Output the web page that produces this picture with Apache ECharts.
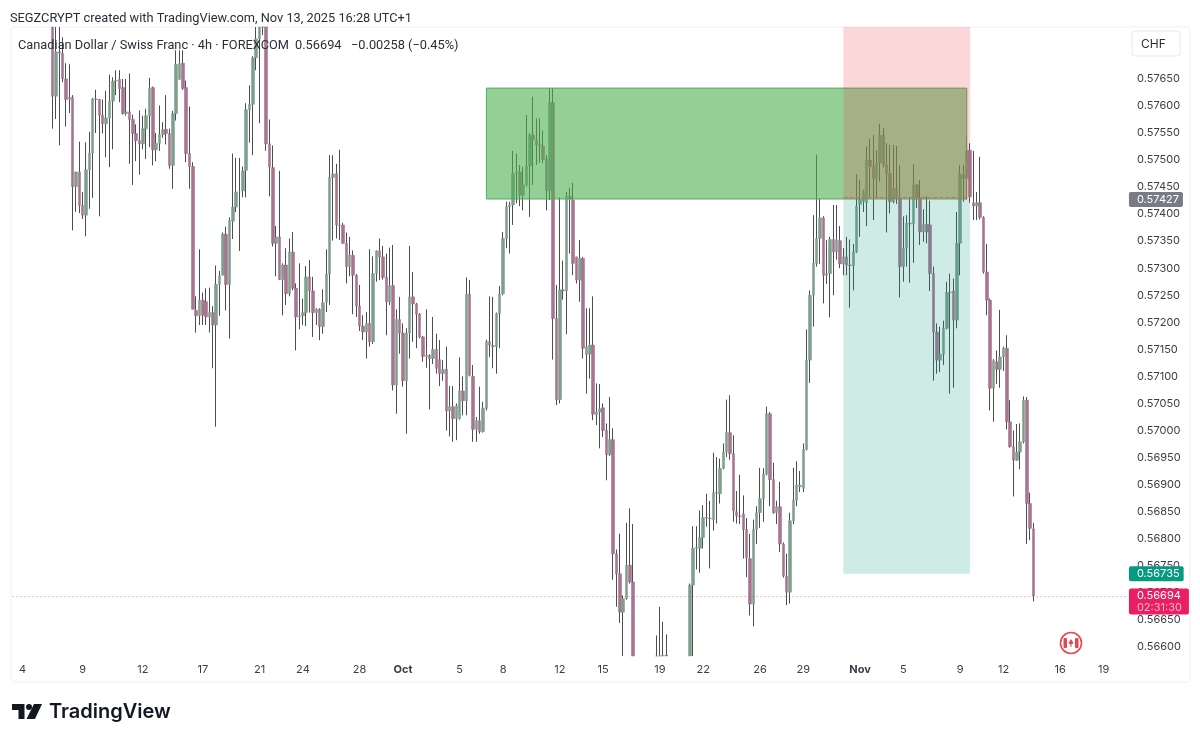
<!DOCTYPE html>
<html>
<head>
<meta charset="utf-8">
<title>CADCHF 4h</title>
<style>html,body{margin:0;background:#fff}#chart{width:1200px;height:742px}</style>
<script src="https://cdn.jsdelivr.net/npm/echarts@6/dist/echarts.min.js"></script>
</head>
<body>
<div id="chart"></div>
<script>
// prices are in points (1/100000 CHF). null = bar is outside the visible pane
const opens = [
null,null,null,null,null,null,null,null,null,null,
null,null,57768,57618,57700,57697,57650,57612,57616,57451,
57478,57416,57398,57482,57513,57613,57612,57583,57567,57578,
57609,57646,57649,57634,57586,57589,57575,57549,57536,57530,
57558,57582,57634,57519,57531,57547,57557,57549,57490,57586,
57649,57679,57634,57512,57488,57222,57212,57241,57238,57210,
57218,57195,57270,57287,57363,57270,57387,57413,57441,57443,
57481,57593,57603,57689,57724,57750,57790,57530,57486,57346,
57358,57279,57306,57253,57330,57263,57210,57212,57218,57284,
57258,57218,57224,57192,57237,57289,57468,57475,57380,57380,
57346,57303,57324,57287,57230,57193,57182,57198,57164,57290,
57332,57321,57283,57238,57268,57084,57205,57180,57092,57180,
57247,57234,57215,57173,57137,57139,57133,57150,57131,57105,
57113,57036,57044,57022,57022,57073,57055,57252,57100,57002,
57018,56998,57041,57164,57157,57155,57216,57253,57355,57414,
57417,57475,57478,57435,57454,57489,57546,57538,57528,57526,
57501,57443,57606,57207,57057,57260,57258,57433,57426,57321,
57278,57318,57140,57141,57158,57029,57034,57042,57000,56955,
56983,56772,56735,56664,56689,56751,56720,null,null,null,
null,null,null,56540,56550,56560,56585,null,null,null,
null,null,null,56520,56714,56782,56782,56802,56839,56838,
56835,56885,56883,56930,56960,56996,56957,56850,56842,56846,
56817,56763,56679,56817,56848,56874,56919,57031,56909,56848,
56859,56790,56731,56701,56833,56871,56896,56893,56965,57130,
57250,57309,57355,57393,57287,57290,57353,57330,57351,57308,
57321,57306,57305,57330,57418,57423,57421,57500,57489,57466,
57495,57546,57491,57475,57423,57447,57429,57303,57337,57383,
57382,57454,57430,57367,57381,57380,57290,57182,57130,57141,
57189,57255,57258,57204,57346,57474,57466,57518,57421,57415,
57421,57394,57293,57241,57078,57127,57113,57136,57152,57016,
56970,56945,56960,56979,57056,56865,56818
];
const closes = [
null,null,null,null,null,null,null,null,null,null,
null,null,57618,57700,57698,57650,57612,57616,57451,57478,
57416,57398,57482,57513,57613,57612,57583,57567,57578,57609,
57646,57647,57632,57586,57589,57575,57549,57536,57530,57558,
57582,57632,57519,57531,57547,57556,57549,57490,57586,57677,
57678,57632,57512,57488,57224,57212,57241,57213,57210,57218,
57195,57270,57286,57363,57270,57388,57413,57441,57441,57480,
57593,57603,57689,57724,57748,57790,57530,57487,57346,57358,
57279,57306,57253,57330,57263,57210,57212,57218,57284,57258,
57218,57224,57192,57236,57289,57468,57474,57380,57379,57346,
57303,57324,57287,57230,57193,57182,57198,57164,57290,57332,
57321,57283,57238,57268,57084,57205,57180,57092,57180,57247,
57234,57215,57173,57137,57139,57133,57150,57115,57105,57113,
57036,57044,57022,57046,57073,57055,57252,57102,57002,57018,
56998,57041,57164,57158,57155,57216,57252,57355,57414,57417,
57475,57478,57435,57454,57489,57546,57538,57528,57527,57501,
57443,57606,57207,57057,57260,57258,57433,57428,57309,57278,
57318,57152,57155,57158,57030,57034,57040,57000,56955,56983,
56772,56735,56664,56689,56751,56720,56570,null,null,null,
null,null,null,56550,56560,56584,56575,null,null,null,
null,null,null,56714,56782,56784,56802,56839,56838,56837,
56885,56884,56930,56960,56996,56957,56851,56842,56841,56817,
56765,56679,56817,56848,56874,56919,57031,56909,56848,56859,
56790,56731,56701,56833,56871,56899,56899,56965,57130,57250,
57309,57355,57393,57287,57290,57353,57330,57352,57308,57321,
57306,57305,57330,57415,57427,57442,57500,57488,57466,57495,
57546,57491,57475,57423,57447,57429,57303,57337,57383,57382,
57454,57430,57367,57381,57367,57290,57182,57130,57141,57189,
57255,57256,57204,57346,57474,57466,57518,57432,57415,57421,
57394,57293,57241,57078,57129,57113,57136,57152,57016,56970,
56945,56960,56979,57056,56865,56819,56694
];
const highs = [
null,null,null,null,null,null,null,null,null,null,
null,null,57790,57760,57765,57727,57679,57677,57620,57478,
57534,57441,57533,57552,57615,57630,57613,57612,57628,57658,
57653,57666,57666,57650,57650,57660,57584,57566,57592,57582,
57595,57652,57636,57550,57601,57570,57620,57558,57591,57703,
57703,57703,57647,57599,57496,57248,57335,57255,57263,57264,
57230,57305,57295,57366,57377,57394,57512,57504,57504,57488,
57605,57638,57692,57760,57775,57810,57800,57575,57527,57378,
57480,57309,57337,57355,57367,57272,57309,57244,57304,57315,
57284,57226,57226,57261,57335,57509,57509,57493,57519,57384,
57366,57358,57333,57289,57269,57213,57219,57335,57322,57333,
57355,57341,57327,57338,57343,57224,57247,57198,57189,57341,
57293,57236,57217,57175,57224,57141,57210,57179,57167,57130,
57155,57082,57082,57050,57135,57100,57283,57278,57121,57025,
57081,57053,57168,57248,57247,57218,57267,57367,57423,57423,
57517,57512,57491,57487,57583,57550,57617,57577,57577,57555,
57509,57633,57633,57269,57431,57314,57441,57449,57458,57321,
57352,57321,57226,57226,57248,57087,57086,57050,57013,57062,
57004,56780,56809,56695,56829,56856,56827,null,null,null,
null,null,null,56621,56674,56646,56623,null,null,null,
null,null,null,56717,56823,56823,56852,56862,56883,56870,
56959,56951,56948,56976,57057,57065,56991,56888,56918,56880,
56838,56809,56835,56860,56931,56930,57044,57034,56940,56870,
56905,56793,56772,56848,56931,56943,56925,56976,57187,57259,
57398,57510,57429,57396,57352,57358,57417,57417,57378,57337,
57358,57353,57345,57474,57464,57445,57525,57540,57546,57518,
57567,57559,57531,57528,57528,57526,57491,57396,57398,57432,
57492,57456,57463,57409,57433,57425,57303,57198,57192,57203,
57275,57290,57281,57404,57491,57491,57543,57531,57517,57441,
57506,57396,57345,57244,57132,57148,57223,57155,57176,57056,
57000,57012,57013,57063,57062,56885,56829
];
const lows = [
null,null,null,null,null,null,null,null,null,null,
null,null,57558,57576,57527,57644,57562,57587,57370,57404,
57402,57391,57359,57410,57430,57550,57396,57549,57505,57487,
57520,57620,57607,57584,57582,57493,57454,57498,57473,57520,
57502,57524,57490,57498,57517,57541,57529,57484,57447,57573,
57649,57630,57496,57447,57224,57181,57195,57195,57195,57181,
57115,57007,57212,57287,57222,57170,57354,57404,57332,57431,
57431,57532,57509,57666,57568,57731,57517,57433,57340,57285,
57278,57213,57232,57248,57259,57148,57187,57195,57193,57218,
57173,57195,57167,57179,57219,57232,57351,57355,57352,57345,
57272,57285,57215,57210,57184,57167,57133,57155,57160,57275,
57278,57279,57176,57232,57074,57031,57142,57081,56994,57133,
57164,57152,57170,57127,57116,57039,57123,57105,57082,57092,
57000,56989,56979,56982,57020,57028,57028,57100,56979,56979,
56994,56996,57037,57136,57115,57105,57152,57250,57337,57327,
57380,57420,57415,57407,57451,57395,57454,57491,57495,57495,
57407,57426,57131,57047,57050,57242,57178,57327,57287,57272,
57238,57133,57068,57096,57019,57010,56967,56988,56908,56953,
56724,56674,56644,56560,56687,56717,56550,null,null,null,
null,null,null,56500,56500,56500,56510,null,null,null,
null,null,null,56500,56582,56743,56737,56782,56822,56745,
56815,56828,56865,56928,56951,56946,56831,56828,56827,56763,
56729,56658,56638,56790,56820,56831,56917,56860,56846,56827,
56775,56728,56677,56680,56827,56860,56886,56886,56963,57088,
57192,57303,57308,57235,57271,57209,57250,57316,57300,57287,
57287,57227,57259,57328,57358,57404,57378,57429,57389,57429,
57460,57486,57366,57401,57420,57419,57246,57275,57303,57273,
57310,57411,57343,57349,57346,57258,57092,57105,57108,57121,
57187,57068,57079,57189,57287,57423,57427,57421,57389,57389,
57390,57290,57213,57037,57016,57086,57079,57110,57002,56968,
56878,56944,56928,56976,56790,56797,56684
];

const priceTicks = [0.566,0.5665,0.567,0.5675,0.568,0.5685,0.569,0.5695,0.57,0.5705,0.571,0.5715,0.572,0.5725,0.573,0.5735,0.574,0.5745,0.575,0.5755,0.576,0.5765];
const tickDays = ['09-04','09-09','09-12','09-17','09-21','09-24','09-28','10-01','10-05','10-08','10-12','10-15','10-19','10-22','10-26','10-29','11-02','11-05','11-09','11-12','11-16','11-19'];
const tickLabels = ['4','9','12','17','21','24','28','Oct','5','8','12','15','19','22','26','29','Nov','5','9','12','16','19'];

const lastPrice = 0.56694;
const entryPrice = 0.57427;
const stopTop = 0.57746;
const targetPrice = 0.56735;
const zoneTop = 0.57633;
const zoneBottom = 0.57428;
const entryLine = 0.57431;
const paneMin = 0.56583;

// 4h bars at 03,07,11,15,19,23, Friday stops early and Sunday only has the late bar
const slotCount = 335;
const categories = [];
for (let t = Date.UTC(2025, 8, 3, 15); categories.length < slotCount; t += 4 * 3600 * 1000) {
  const d = new Date(t);
  const day = d.getUTCDay();
  const h = d.getUTCHours();
  if (day === 6) continue;
  if (day === 0 && h !== 23) continue;
  if (day === 5 && h === 23) continue;
  const mm = String(d.getUTCMonth() + 1).padStart(2, '0');
  const dd = String(d.getUTCDate()).padStart(2, '0');
  categories.push(mm + '-' + dd + ' ' + String(h).padStart(2, '0') + ':00');
}

// label goes on the first bar of each listed date
const tickBySlot = {};
tickDays.forEach((day, k) => {
  tickBySlot[categories.findIndex(c => c.startsWith(day))] = tickLabels[k];
});

// candlestick does not cut bars at the pane edge, so hold them inside it
const inPane = p => Math.min(stopTop, Math.max(paneMin, p / 1e5));
const hidden = i => opens[i] === null || highs[i] / 1e5 < paneMin || lows[i] / 1e5 > stopTop;
const wickData = opens.map((o, i) => hidden(i)
  ? ['-', '-', '-', '-']
  : [inPane(o), inPane(closes[i]), inPane(lows[i]), inPane(highs[i])]);
const bodyData = opens.map((o, i) => hidden(i)
  ? ['-', '-', '-', '-']
  : [inPane(o), inPane(closes[i]), inPane(Math.min(o, closes[i])), inPane(Math.max(o, closes[i]))]);

const FONT = 'Inter, Roboto, sans-serif';
const HEAD_FONT = '12.8px Roboto, sans-serif';

// price flag sitting on the axis, a level line with no visible stroke
const lastSlot = categories[slotCount - 1];
const tag = (value, bg, text) => [
  {
    xAxis: categories[0],
    yAxis: value,
    lineStyle: { color: 'transparent', width: 0 },
    label: {
      show: true,
      position: 'end',
      distance: 2,
      formatter: text,
      backgroundColor: bg,
      color: '#fff',
      fontFamily: FONT,
      fontSize: 11,
      padding: [2, 4, 2, 8],
      borderRadius: 2
    }
  },
  { xAxis: lastSlot, yAxis: value }
];

const option = {
  animation: false,
  backgroundColor: '#fff',
  grid: { left: 11, right: 71.4, top: 27, bottom: 86 },
  xAxis: {
    type: 'category',
    data: categories,
    boundaryGap: true,
    axisLine: { show: false },
    axisTick: { show: false },
    splitLine: { show: false },
    axisLabel: {
      interval: 0,
      margin: 8,
      hideOverlap: false,
      fontFamily: FONT,
      fontSize: 11,
      color: '#3a3d45',
      formatter: (v, i) => {
        const t = tickBySlot[i];
        if (!t) return '';
        return isNaN(+t) ? '{m|' + t + '}' : t;
      },
      rich: { m: { fontFamily: FONT, fontSize: 11, fontWeight: 700, color: '#3a3d45' } }
    }
  },
  yAxis: {
    type: 'value',
    position: 'right',
    min: paneMin,
    max: stopTop,
    axisLine: { show: false },
    axisTick: { show: false },
    splitLine: { show: false },
    axisLabel: {
      customValues: priceTicks,
      align: 'left',
      margin: 8.5,
      padding: [2, 0, 0, 0],
      fontFamily: FONT,
      fontSize: 11,
      color: '#3a3d45',
      formatter: v => v.toFixed(5)
    }
  },
  series: [
    {
      name: 'wick',
      type: 'candlestick',
      data: wickData,
      barWidth: 1,
      z: 2,
      itemStyle: { color: '#4b4d50', color0: '#4b4d50', borderColor: '#4b4d50', borderColor0: '#4b4d50', borderWidth: 1 }
    },
    {
      name: 'body',
      type: 'candlestick',
      data: bodyData,
      barWidth: 3,
      z: 3,
      itemStyle: { color: '#7f9f8c', color0: '#a87590', borderColor: '#7a9a86', borderColor0: '#9c6a84', borderWidth: 0.5 }
    },
    {
      name: 'zone',
      type: 'line',
      data: [],
      z: 5,
      markArea: {
        silent: true,
        z: 5,
        itemStyle: { color: 'rgba(76,175,80,0.6)', borderColor: '#55a866', borderWidth: 1 },
        data: [[{ xAxis: categories[142], yAxis: zoneTop }, { xAxis: categories[286], yAxis: zoneBottom }]]
      }
    },
    {
      name: 'position',
      type: 'line',
      data: [],
      z: 6,
      markArea: {
        silent: true,
        z: 6,
        data: [
          [{ xAxis: categories[249], yAxis: stopTop, itemStyle: { color: 'rgba(242,54,69,0.2)' } }, { xAxis: categories[287], yAxis: entryPrice }],
          [{ xAxis: categories[249], yAxis: entryPrice, itemStyle: { color: 'rgba(8,153,129,0.2)' } }, { xAxis: categories[287], yAxis: targetPrice }]
        ]
      },
      markLine: {
        silent: true,
        z: 7,
        symbol: 'none',
        data: [
          [
            { xAxis: categories[249], yAxis: entryLine, lineStyle: { color: '#a87f76', type: 'dashed', width: 1 }, label: { show: false } },
            { xAxis: categories[286], yAxis: entryLine }
          ]
        ]
      }
    },
    {
      name: 'tags',
      type: 'line',
      data: [],
      z: 8,
      markLine: {
        silent: true,
        z: 8,
        symbol: 'none',
        data: [
          [
            {
              xAxis: categories[0],
              yAxis: lastPrice,
              lineStyle: { color: 'rgba(233,30,99,0.6)', type: [1, 3], width: 1 },
              label: {
                show: true,
                position: 'end',
                distance: 2,
                offset: [0, 5.5],
                formatter: '{a|' + lastPrice.toFixed(5) + '}\n{b|02:31:30}',
                backgroundColor: '#e91e63',
                padding: [1, 7, 1, 8],
                borderRadius: 2,
                rich: {
                  a: { color: '#fff', fontFamily: FONT, fontSize: 11, lineHeight: 12 },
                  b: { color: '#f9b6cd', fontFamily: FONT, fontSize: 11, lineHeight: 12 }
                }
              }
            },
            { xAxis: lastSlot, yAxis: lastPrice }
          ],
          tag(entryPrice, '#787b86', entryPrice.toFixed(5)),
          tag(targetPrice, '#089981', targetPrice.toFixed(5))
        ]
      }
    }
  ],
  graphic: [
    { type: 'rect', z: -1, shape: { x: 11, y: 27, width: 1179, height: 655, r: 3 }, style: { fill: '#fff', stroke: '#eeeff2', lineWidth: 1 } },
    { type: 'text', z: 20, x: 10, y: 12, style: { text: 'SEGZCRYPT created with TradingView.com, Nov 13, 2025 16:28 UTC+1', font: HEAD_FONT, fill: '#2a2e39' } },
    { type: 'text', z: 20, x: 18, y: 39, style: { text: 'Canadian Dollar / Swiss Franc · 4h · FOREXCOM', font: HEAD_FONT, fill: '#2a2e39' } },
    { type: 'text', z: 20, x: 295, y: 39, style: { text: '0.56694', font: HEAD_FONT, fill: '#2a2e39' } },
    { type: 'text', z: 20, x: 351, y: 39, style: { text: '−0.00258 (−0.45%)', font: HEAD_FONT, fill: '#2a2e39' } },
    { type: 'rect', z: 20, shape: { x: 1132, y: 31, width: 48, height: 25, r: 3 }, style: { fill: '#fff', stroke: '#e6e8ec', lineWidth: 1 } },
    { type: 'text', z: 21, x: 1141, y: 38, style: { text: 'CHF', font: '12px ' + FONT, fill: '#2a2e39' } },
    // canada flag bubble
    { type: 'circle', z: 20, shape: { cx: 1071, cy: 643, r: 10.5 }, style: { fill: '#fff', stroke: '#e5484d', lineWidth: 1.6 } },
    { type: 'rect', z: 21, shape: { x: 1063.5, y: 638, width: 3.5, height: 10, r: 1 }, style: { fill: '#e5484d' } },
    { type: 'rect', z: 21, shape: { x: 1075, y: 638, width: 3.5, height: 10, r: 1 }, style: { fill: '#e5484d' } },
    { type: 'polygon', z: 21, shape: { points: [[1071, 639], [1073.6, 643], [1071.5, 644.5], [1071.5, 647], [1070.5, 647], [1070.5, 644.5], [1068.4, 643]] }, style: { fill: '#e5484d' } },
    // TradingView logo
    { type: 'polygon', z: 20, shape: { points: [[12, 704], [24.5, 704], [24.5, 719], [18.5, 719], [18.5, 710], [12, 710]] }, style: { fill: '#131722' } },
    { type: 'circle', z: 20, shape: { cx: 29, cy: 707, r: 3 }, style: { fill: '#131722' } },
    { type: 'polygon', z: 20, shape: { points: [[34, 704], [42, 704], [35, 719], [26.5, 719]] }, style: { fill: '#131722' } },
    { type: 'text', z: 20, x: 49, y: 702, style: { text: 'TradingView', font: '600 20px ' + FONT, fill: '#131722' } }
  ]
};

window.addEventListener('load', function() {
  const chart = echarts.init(document.getElementById('chart'));
  chart.setOption(option);
});
</script>
</body>
</html>
